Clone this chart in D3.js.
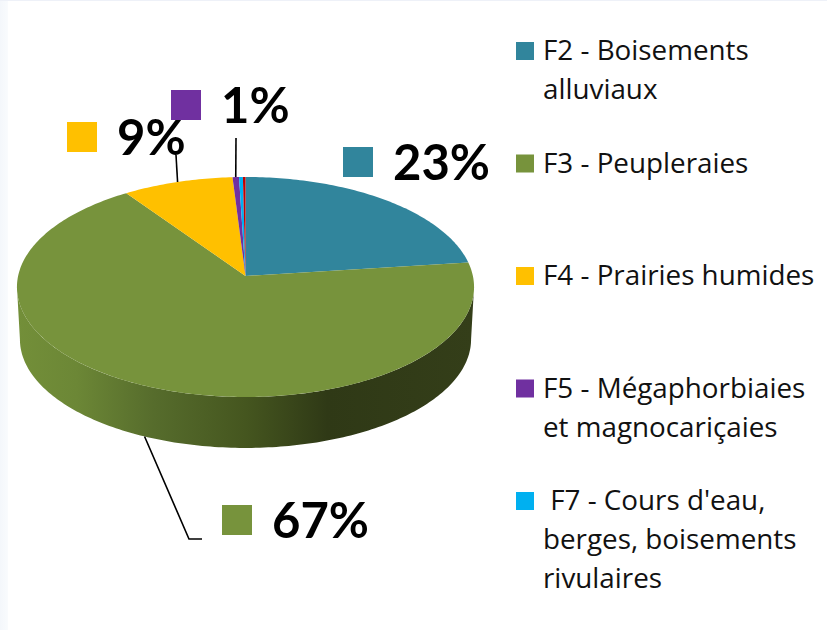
<!DOCTYPE html>
<html>
<head>
<meta charset="utf-8">
<script src="https://cdn.jsdelivr.net/npm/d3@7"></script>
<style>
  html, body { margin: 0; padding: 0; background: #fff; }
  svg { display: block; }
</style>
</head>
<body>
<svg id="chart" width="827" height="630"></svg>
<script>
// values (the labels are rounded, the slices are not)
var categories = ["F2", "F3", "F4", "F5", "F7", "Autre"];
var values = [23, 67.4, 8.6, 0.5, 0.3, 0.2];
var colors = ["#31859C", "#77933C", "#FFC000", "#7030A0", "#00B0F0", "#C00000"];
var percentLabels = ["23%", "67%", "9%", "1%"];
var legendLines = [
    ["F2 - Boisements", "alluviaux"],
    ["F3 - Peupleraies"],
    ["F4 - Prairies humides"],
    ["F5 - Mégaphorbiaies", "et magnocariçaies"],
    ["\u00A0F7 - Cours d'eau,", "berges, boisements", "rivulaires"]
];

var svg = d3.select("#chart");

// perspective of the 3D pie: a circle projected to the screen
var cx = 245.5, cy = 276, rx = 227.4, ry = 108.9, persp = 0.1;
var depth = 52.5, bottomScale = 0.987;

var project = function(theta, level){
    var u = Math.sin(theta), v = Math.cos(theta), w = 1 + persp * v;
    var s = level ? bottomScale : 1;
    return [cx + s * rx * u / w, cy - s * ry * v / w + (level ? depth : 0)];
};

var pie = d3.pie().sort(null).value(function(d){ return d; });
var slices = pie(values);
var line = d3.line();

var sweep = function(a0, a1, level){
    var n = Math.max(2, Math.ceil(Math.abs(a1 - a0) * 60));
    return d3.range(n + 1).map(function(i){
        return project(a0 + (a1 - a0) * i / n, level);
    });
};

// faint page edge of the original screenshot
var edge = svg.append("defs");
var edgeGrad = edge.append("linearGradient").attr("id", "edge").attr("x1", 0).attr("x2", 1);
edgeGrad.append("stop").attr("offset", 0).attr("stop-color", "#f4f7fb");
edgeGrad.append("stop").attr("offset", 1).attr("stop-color", "#f9fbfd");
svg.append("rect").attr("x", 0).attr("y", 0).attr("width", 8).attr("height", 630).attr("fill", "url(#edge)");
svg.append("rect").attr("x", 0).attr("y", 0).attr("width", 827).attr("height", 1).attr("fill", "#eef1f8");

// wall of the pie, only the big slice shows from the front
var wallGrad = edge.append("linearGradient").attr("id", "wall")
    .attr("gradientUnits", "userSpaceOnUse")
    .attr("x1", 17).attr("x2", 474).attr("y1", 0).attr("y2", 0);
[[0, "#738f39"], [0.13, "#6c8736"], [0.3, "#566c2c"], [0.5, "#45561f"], [0.68, "#2f3916"], [1, "#343e19"]]
    .forEach(function(s){
        wallGrad.append("stop").attr("offset", s[0]).attr("stop-color", s[1]);
    });

var frontStart = Math.PI - Math.acos(persp);
var frontEnd = Math.PI + Math.acos(persp);
var wallPoints = sweep(frontStart, frontEnd, false).concat(sweep(frontEnd, frontStart, true));
svg.append("path")
    .attr("d", line(wallPoints) + "Z")
    .attr("fill", "url(#wall)");

// top face
svg.append("g").selectAll("path")
    .data(slices)
    .enter()
    .append("path")
    .attr("d", function(d){
        return line([[cx, cy]].concat(sweep(d.startAngle, d.endAngle, false))) + "Z";
    })
    .attr("fill", function(d, i){ return colors[i]; });

// leader lines run from the middle of a slice to its label
var midAngle = function(d){ return (d.startAngle + d.endAngle) / 2; };
var leaders = [
    [[176, 155], project(midAngle(slices[2]), false)],
    [[236, 138], project(midAngle(slices[3]), false)],
    [project(midAngle(slices[1]), true), [189, 539], [202, 539]]
];
svg.append("g").selectAll("path")
    .data(leaders)
    .enter()
    .append("path")
    .attr("d", function(d){ return line(d); })
    .attr("fill", "none")
    .attr("stroke", "#000")
    .attr("stroke-width", 1.6);

// percent labels with their colour keys
var labelSlots = [
    {slice: 0, keyX: 343, keyY: 147, textX: 393, baseY: 180},
    {slice: 1, keyX: 222, keyY: 505, textX: 272, baseY: 538},
    {slice: 2, keyX: 67, keyY: 122, textX: 117, baseY: 155},
    {slice: 3, keyX: 171, keyY: 90, textX: 221, baseY: 123}
];
var labelGroup = svg.append("g");
labelSlots.forEach(function(slot, i){
    labelGroup.append("rect")
        .attr("x", slot.keyX).attr("y", slot.keyY)
        .attr("width", 30).attr("height", 30)
        .attr("fill", colors[slot.slice]);
    labelGroup.append("text")
        .attr("x", slot.textX).attr("y", slot.baseY)
        .attr("font-family", "Lato")
        .attr("font-weight", 700)
        .attr("font-size", 49)
        .attr("fill", "#000")
        .text(percentLabels[i]);
});

// legend
var legendY = d3.scalePoint().domain(d3.range(legendLines.length)).range([42, 492]);
var legend = svg.append("g").selectAll("g")
    .data(legendLines)
    .enter()
    .append("g");

legend.append("rect")
    .attr("x", 516)
    .attr("y", function(d, i){ return legendY(i); })
    .attr("width", 18)
    .attr("height", 18)
    .attr("fill", function(d, i){ return colors[i]; });

legend.each(function(lines, i){
    d3.select(this).selectAll("text")
        .data(lines)
        .enter()
        .append("text")
        .attr("x", 543)
        .attr("y", function(d, j){ return legendY(i) + 18 + j * 39; })
        .attr("font-family", "Open Sans")
        .attr("font-size", 27.8)
        .attr("fill", "#111")
        .text(function(d){ return d; });
});
</script>
</body>
</html>
